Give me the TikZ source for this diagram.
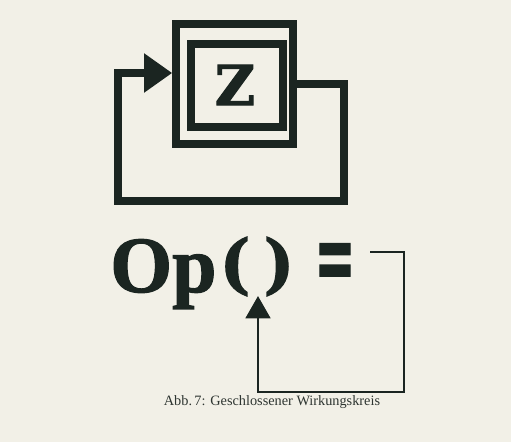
\documentclass[tikz,border=0pt]{standalone}
\usepackage{fontspec}
\setmainfont{Liberation Serif}
\newfontfamily\slabfont{DejaVu Serif}[FakeBold=2]
\newfontfamily\opfont{Liberation Serif}[FakeBold=1.5]
\usepackage{tikz}
\usetikzlibrary{positioning, arrows.meta, calc}
\definecolor{ink}{HTML}{1B2521}
\definecolor{paper}{HTML}{F2F0E7}
\definecolor{inkgray}{HTML}{2E3531}
\tikzset{
  heavy/.style={draw=ink, line width=6.5pt, line join=miter, inner sep=0pt},
  zbig/.style={text=ink, font=\slabfont\bfseries\fontsize{47}{47}\selectfont, inner sep=0pt},
  opbig/.style={text=ink, font=\opfont\bfseries\fontsize{68}{68}\selectfont, inner sep=0pt},
  parbig/.style={text=ink, font=\slabfont\bfseries\fontsize{55}{55}\selectfont, inner sep=0pt},
  loopflow/.style={-{Triangle[length=24pt, width=32pt]}, line width=6.5pt, color=ink, line cap=rect},
  backflow/.style={-{Triangle[length=19pt, width=21pt]}, line width=2.4pt, color=ink},
  capt/.style={text=inkgray, font=\fontsize{12.2}{14}\selectfont, inner sep=0pt},
}

\begin{document}
\begin{tikzpicture}[x=0.03cm, y=-0.03cm]
  \fill[paper] (0,0) rectangle (511,442);
  \node[heavy, minimum width=3.51cm, minimum height=3.6cm] (zbox) at (234.5,84) {};
  \node[heavy, minimum width=2.75cm, minimum height=2.5cm] (zin) at (237,85.5) {};
  \node[zbig] (z) at (235,85) {Z};
  \coordinate (loopR) at (344,201);
  \coordinate (loopL) at (118,201);
  \draw[loopflow] (zbox.east) -| (loopR) -- (loopL) |- ([yshift=0.33cm]zbox.west);
  \node[opbig, anchor=base west] (op) at (110,292) {Op};
  \node[parbig] (lpar) at (235,266.5) {(};
  \node[parbig] (rpar) at (279,266.5) {)};
  \node[parbig] (eq) at (335,267) {\scalebox{0.75}[1.5]{=}};
  \coordinate (fbin) at (370,252);
  \coordinate (fbturn) at (404,392);
  \coordinate (slot) at (258,296);
  \draw[backflow] (fbin) -| (fbturn) -| (slot);
  \node[capt] (caption) at (272,402) {Abb.\,7: Geschlossener Wirkungskreis};
\end{tikzpicture}
\end{document}
